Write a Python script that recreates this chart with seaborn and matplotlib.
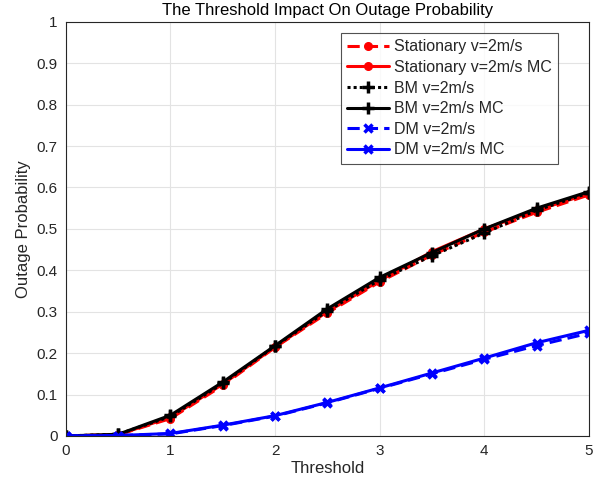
import matplotlib
matplotlib.use("Agg")
import matplotlib.pyplot as plt
import pandas as pd
import seaborn as sns

threshold = [0, 0.5, 1, 1.5, 2, 2.5, 3, 3.5, 4, 4.5, 5]
stationary = [0, 0.003, 0.042, 0.122, 0.214, 0.297, 0.372, 0.437, 0.492, 0.540, 0.582]
stationary_mc = [0, 0.003, 0.045, 0.125, 0.215, 0.300, 0.375, 0.445, 0.500, 0.545, 0.585]
bm = [0, 0.004, 0.047, 0.127, 0.217, 0.302, 0.377, 0.435, 0.490, 0.545, 0.587]
bm_mc = [0, 0.004, 0.050, 0.130, 0.218, 0.307, 0.383, 0.443, 0.500, 0.550, 0.590]
dm = [0, 0.001, 0.005, 0.025, 0.048, 0.080, 0.115, 0.150, 0.185, 0.218, 0.248]
dm_mc = [0, 0.001, 0.006, 0.026, 0.049, 0.081, 0.116, 0.152, 0.188, 0.225, 0.255]

series = [
    ("Stationary v=2m/s", stationary, "red", (4, 2), "o", 5.5, 1.0),
    ("Stationary v=2m/s MC", stationary_mc, "red", "", "o", 5.5, 1.0),
    ("BM v=2m/s", bm, "black", (1, 1), "+", 9, 2.5),
    ("BM v=2m/s MC", bm_mc, "black", "", "+", 9, 2.5),
    ("DM v=2m/s", dm, "blue", (4, 2), "x", 6, 2.5),
    ("DM v=2m/s MC", dm_mc, "blue", "", "x", 6, 2.5),
]

sns.set_theme(style="whitegrid")
plt.rcParams["font.family"] = ["Liberation Sans", "DejaVu Sans"]

fig = plt.figure(figsize=(5.99, 4.86), dpi=100)
ax = fig.add_axes([0.110, 0.103, 0.873, 0.852])

for name, vals, color, dash, marker, ms, mew in series:
    df = pd.DataFrame({"Threshold": threshold, "p": vals})
    sns.lineplot(data=df, x="Threshold", y="p", ax=ax, color=color, linewidth=2.2,
                 marker=marker, markersize=ms, markeredgewidth=mew, markeredgecolor=color,
                 label=name)
    line = ax.get_lines()[-1]
    if dash:
        line.set_dashes(dash)

ax.set_xlim(0, 5)
ax.set_ylim(0, 1)
ax.set_xticks(range(6))
ax.set_yticks([i / 10 for i in range(11)])
ax.set_yticklabels(["0"] + [f"{i / 10:g}" for i in range(1, 10)] + ["1"])
ax.tick_params(labelsize=11, colors="#262626", direction="in", length=3, width=0.6, pad=6)
ax.grid(True, color="#e3e3e3", linewidth=0.8)
for s in ax.spines.values():
    s.set_color("#262626")
    s.set_linewidth(0.8)
ax.set_xlabel("Threshold", fontsize=12, color="#262626", labelpad=2)
ax.set_ylabel("Outage Probability", fontsize=12, color="#262626")
ax.set_title("The Threshold Impact On Outage Probability", fontsize=12, color="black", pad=5)

leg = ax.legend(loc="upper right", bbox_to_anchor=(0.941, 0.973), fontsize=11.5,
                frameon=True, fancybox=False, handlelength=2.6, borderpad=0.4,
                labelspacing=0.35, handletextpad=0.3, borderaxespad=0.0)
leg.get_frame().set_edgecolor("#262626")
leg.get_frame().set_linewidth(0.8)

fig.savefig("out.png", dpi=100)
